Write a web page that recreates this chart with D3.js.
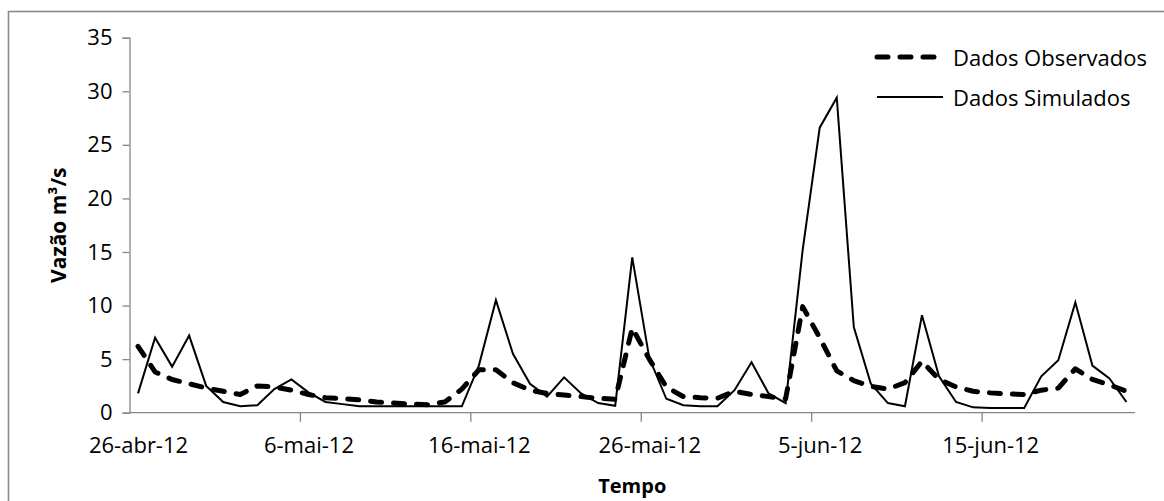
<!DOCTYPE html>
<html>
<head>
<meta charset="utf-8">
<script src="https://cdn.jsdelivr.net/npm/d3@7"></script>
<style>
  body { margin: 0; background: #fff; }
  svg text { font-family: "Open Sans", "Noto Sans", sans-serif; fill: #000; }
</style>
</head>
<body>
<svg id="chart" width="1164" height="501"></svg>
<script>
// daily values from 26-abr-12 onward
const startDay = new Date(2012, 3, 26);
const observed = [
  6.2, 3.8, 3.1, 2.7, 2.3, 2.0, 1.7, 2.5, 2.4, 2.1,
  1.7, 1.4, 1.3, 1.2, 1.0, 0.9, 0.8, 0.75, 1.0, 2.2,
  4.0, 4.0, 2.8, 2.1, 1.8, 1.65, 1.5, 1.35, 1.25, 7.9,
  5.0, 2.4, 1.5, 1.4, 1.35, 2.0, 1.7, 1.5, 1.3, 9.9,
  7.0, 3.9, 3.0, 2.45, 2.2, 2.8, 4.8, 3.1, 2.4, 2.0,
  1.85, 1.75, 1.7, 2.1, 2.3, 4.1, 3.1, 2.6, 2.0
];
const simulated = [
  1.8, 7.0, 4.3, 7.2, 2.5, 1.0, 0.6, 0.7, 2.2, 3.1,
  1.9, 1.0, 0.8, 0.6, 0.6, 0.6, 0.6, 0.6, 0.6, 0.6,
  4.4, 10.5, 5.5, 2.7, 1.5, 3.3, 1.8, 0.9, 0.65, 14.5,
  5.1, 1.3, 0.7, 0.6, 0.6, 2.1, 4.7, 1.8, 0.9, 15.2,
  26.6, 29.4, 8.0, 2.7, 0.9, 0.6, 9.1, 3.4, 1.0, 0.5,
  0.45, 0.45, 0.45, 3.4, 4.9, 10.3, 4.4, 3.2, 1.0
];
const yTicks = [0, 5, 10, 15, 20, 25, 30, 35];
const tickEveryDays = 10;
const monthsPt = ['jan', 'fev', 'mar', 'abr', 'mai', 'jun', 'jul', 'ago', 'set', 'out', 'nov', 'dez'];
const seriesNames = ['Dados Observados', 'Dados Simulados'];

const days = d3.timeDay.range(startDay, d3.timeDay.offset(startDay, simulated.length));

let svg = d3.select('#chart');

const plot = { left: 129.5, right: 1135, top: 37.7, bottom: 412.7 };
const AXIS_GRAY = '#868686';

// frame round the chart (cut off on the right and bottom like the source)
svg.append('rect')
  .attr('x', 8.5).attr('y', 11.5)
  .attr('width', 1170).attr('height', 520)
  .style('fill', 'none')
  .style('stroke', '#8a8a8a')
  .style('stroke-width', 1.6);

let x = d3.scaleTime()
  .domain([startDay, d3.timeDay.offset(startDay, simulated.length)])
  .range([plot.left, plot.right]);
let y = d3.scaleLinear().domain([0, 35]).range([plot.bottom, plot.top]);

const dayWidth = x(d3.timeDay.offset(startDay, 1)) - x(startDay);
const mid = d => d3.timeHour.offset(d, 12);

function fmtDate(d) {
  return d.getDate() + '-' + monthsPt[d.getMonth()] + '-' + String(d.getFullYear()).slice(2);
}

// y axis
let yAxis = svg.append('g')
  .attr('transform', `translate(${plot.left},0)`)
  .call(d3.axisLeft(y).tickValues(yTicks).tickSize(7).tickPadding(10));
yAxis.selectAll('text').style('font-size', '22px');

// x axis, labels sit in the middle of each day
const xTickDays = days.filter((d, i) => i % tickEveryDays === 0);
let xAxis = svg.append('g')
  .attr('transform', `translate(0,${plot.bottom})`)
  .call(d3.axisBottom(x).tickValues(xTickDays).tickFormat(fmtDate).tickSize(9).tickPadding(16));
xAxis.selectAll('text')
  .attr('x', dayWidth / 2)
  .style('font-size', '22px');
xAxis.select('.domain').attr('d', `M${plot.left},0H${plot.right}`);

[yAxis, xAxis].forEach(a => {
  a.select('.domain').style('stroke', AXIS_GRAY).style('stroke-width', 1.3);
  a.selectAll('.tick line').style('stroke', AXIS_GRAY).style('stroke-width', 1.3);
  a.selectAll('.tick')
    .filter(d => +d === +startDay)
    .select('line').remove();
});

// series
let line = d3.line()
  .x((d, i) => x(mid(days[i])))
  .y(d => y(d));

svg.append('path')
  .datum(observed)
  .attr('d', line)
  .style('fill', 'none')
  .style('stroke', '#000')
  .style('stroke-width', 5)
  .style('stroke-dasharray', '11,12')
  .style('stroke-linecap', 'round')
  .style('stroke-linejoin', 'round');

svg.append('path')
  .datum(simulated)
  .attr('d', line)
  .style('fill', 'none')
  .style('stroke', '#000')
  .style('stroke-width', 2)
  .style('stroke-linejoin', 'miter');

// axis titles
svg.append('text')
  .attr('transform', `translate(58,${(plot.top + plot.bottom) / 2}) rotate(-90)`)
  .attr('text-anchor', 'middle')
  .attr('dominant-baseline', 'central')
  .style('font-size', '21px')
  .style('font-weight', 'bold')
  .text('Vazão m³/s');

svg.append('text')
  .attr('x', (plot.left + plot.right) / 2)
  .attr('y', 485)
  .attr('text-anchor', 'middle')
  .attr('dominant-baseline', 'central')
  .style('font-size', '20px')
  .style('font-weight', 'bold')
  .text('Tempo');

// legend
let legend = svg.append('g').attr('transform', 'translate(876,0)');
const legendRows = [
  { name: seriesNames[0], y: 57, dash: '11,12', width: 5, cap: 'round' },
  { name: seriesNames[1], y: 97, dash: null, width: 2, cap: 'butt' },
];
legendRows.forEach(r => {
  legend.append('line')
    .attr('x1', 1).attr('x2', 67)
    .attr('y1', r.y).attr('y2', r.y)
    .style('stroke', '#000')
    .style('stroke-width', r.width)
    .style('stroke-dasharray', r.dash)
    .style('stroke-linecap', r.cap);
  legend.append('text')
    .attr('x', 77).attr('y', r.y)
    .attr('dominant-baseline', 'central')
    .style('font-size', '22px')
    .text(r.name);
});
</script>
</body>
</html>
